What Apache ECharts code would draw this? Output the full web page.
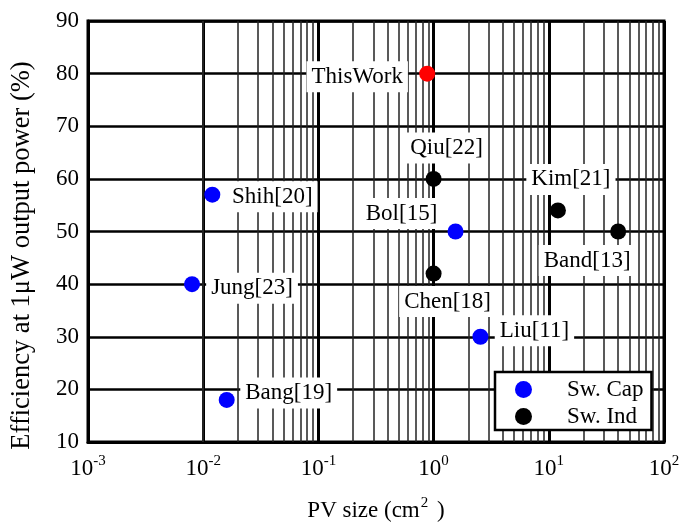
<!DOCTYPE html>
<html>
<head>
<meta charset="utf-8">
<script src="https://cdn.jsdelivr.net/npm/echarts@6/dist/echarts.min.js"></script>
<style>html,body{margin:0;padding:0;background:#fff}#c{width:693px;height:523px}</style>
</head>
<body>
<div id="c"></div>
<script>
// ---- data ----
const capNames = ['Shih[20]', 'Jung[23]', 'Bang[19]', 'Bol[15]', 'Liu[11]'];
const capX = [0.012, 0.008, 0.016, 1.55, 2.55];
const capY = [57, 40, 18, 50, 30];

const indNames = ['Qiu[22]', 'Kim[21]', 'Band[13]', 'Chen[18]'];
const indX = [1.0, 12, 40, 1.0];
const indY = [60, 54, 50, 42];

const thisNames = ['ThisWork'];
const thisX = [0.88];
const thisY = [80];

const xTickValues = [0.001, 0.01, 0.1, 1, 10, 100];
const yTickValues = [10, 20, 30, 40, 50, 60, 70, 80, 90];
const minorMultipliers = [2, 3, 4, 5, 6, 7, 8, 9];

// label placement (offsets of label centre from marker, px)
const labelOffsets = {
  'Shih[20]': [60, 2], 'Jung[23]': [60, 4], 'Bang[19]': [62, -7],
  'Bol[15]': [-54, -18], 'Liu[11]': [54, -6],
  'Qiu[22]': [13, -31], 'Kim[21]': [13, -31], 'Band[13]': [-31, 29], 'Chen[18]': [14, 28],
  'ThisWork': [-70, 3]
};

const minorX = [];
for (let i = 0; i < xTickValues.length - 1; i++) {
  minorMultipliers.forEach(m => minorX.push(xTickValues[i] * m));
}

const FONT = '"Liberation Serif", "Times New Roman", serif';

function mkData(names, xs, ys) {
  return names.map((n, i) => ({
    name: n,
    value: [xs[i], ys[i]],
    label: { offset: labelOffsets[n] }
  }));
}

const labelStyle = {
  show: true,
  position: 'inside',
  formatter: p => p.name,
  fontFamily: FONT,
  fontSize: 23,
  color: '#000',
  opacity: 1,
  backgroundColor: '#fff',
  padding: [5, 5, 3, 5],
  align: 'center',
  verticalAlign: 'middle'
};

const chart = echarts.init(document.getElementById('c'), null, { renderer: 'canvas' });
chart.setOption({
  animation: false,
  backgroundColor: '#fff',
  grid: { left: 88, right: 29, top: 21, bottom: 81, outerBoundsMode: 'none', containLabel: false, show: true, borderColor: '#000', borderWidth: 3, backgroundColor: 'transparent' },
  legend: {
    data: ['Sw. Cap', 'Sw. Ind'],
    orient: 'vertical',
    left: 495, top: 372,
    width: 157,
    backgroundColor: '#fff',
    borderColor: '#000', borderWidth: 2.5, borderRadius: 0,
    padding: [6, 8, 2, 20],
    itemWidth: 17, itemHeight: 17, itemGap: 4,
    icon: 'circle',
    itemStyle: { opacity: 1 },
    textStyle: { fontFamily: FONT, fontSize: 23, lineHeight: 17, color: '#000', padding: [0, 0, 0, 30] },
    z: 10
  },
  xAxis: {
    type: 'log', logBase: 10, min: 0.001, max: 100,
    name: '{a|PV size (cm}{s|2}{a| )}',
    nameLocation: 'middle', nameGap: 54,
    nameTextStyle: {
      rich: {
        a: { fontFamily: FONT, fontSize: 23, color: '#000', lineHeight: 26, verticalAlign: 'bottom' },
        s: { fontFamily: FONT, fontSize: 15, color: '#000', lineHeight: 26, verticalAlign: 'top', padding: [0, 3, 0, 1] }
      }
    },
    axisLine: { show: true, lineStyle: { color: '#000', width: 3 } },
    axisTick: { show: false },
    axisLabel: {
      margin: 12,
      formatter: v => '{b|10}{s|' + Math.round(Math.log10(v)) + '}',
      rich: {
        b: { fontFamily: FONT, fontSize: 23, color: '#000', lineHeight: 26, verticalAlign: 'bottom' },
        s: { fontFamily: FONT, fontSize: 15, color: '#000', lineHeight: 26, verticalAlign: 'top' }
      }
    },
    splitLine: { show: true, lineStyle: { color: '#000', width: 3 } }
  },
  yAxis: {
    type: 'value', min: 10, max: 90, interval: 10,
    name: 'Efficiency at 1\u03bcW output power (%)',
    nameLocation: 'middle', nameGap: 52,
    nameTextStyle: { fontFamily: FONT, fontSize: 26.5, color: '#000', padding: [0, 48, 0, 0] },
    axisLine: { show: true, lineStyle: { color: '#000', width: 3 } },
    axisTick: { show: false },
    axisLabel: { fontFamily: FONT, fontSize: 23, color: '#000', margin: 9 },
    splitLine: { show: true, lineStyle: { color: '#000', width: 2.5 } }
  },
  series: [
    {
      name: 'minor', type: 'scatter', data: [], z: 1, silent: true,
      markLine: {
        silent: true, symbol: ['none', 'none'], animation: false,
        label: { show: false },
        lineStyle: { color: '#222', width: 1.5, type: 'solid', opacity: 1 },
        emphasis: { disabled: true },
        data: minorX.map(v => ({ xAxis: v }))
      }
    },
    {
      name: 'Sw. Cap', type: 'scatter', symbol: 'circle', symbolSize: 16, z: 5,
      itemStyle: { color: '#0000ff', opacity: 1 },
      label: labelStyle,
      data: mkData(capNames, capX, capY)
    },
    {
      name: 'Sw. Ind', type: 'scatter', symbol: 'circle', symbolSize: 16, z: 5,
      itemStyle: { color: '#000', opacity: 1 },
      label: labelStyle,
      data: mkData(indNames, indX, indY)
    },
    {
      name: 'ThisWork', type: 'scatter', symbol: 'circle', symbolSize: 16, z: 5,
      itemStyle: { color: '#ff0000', opacity: 1 },
      label: labelStyle,
      data: mkData(thisNames, thisX, thisY)
    }
  ]
});
</script>
</body>
</html>
